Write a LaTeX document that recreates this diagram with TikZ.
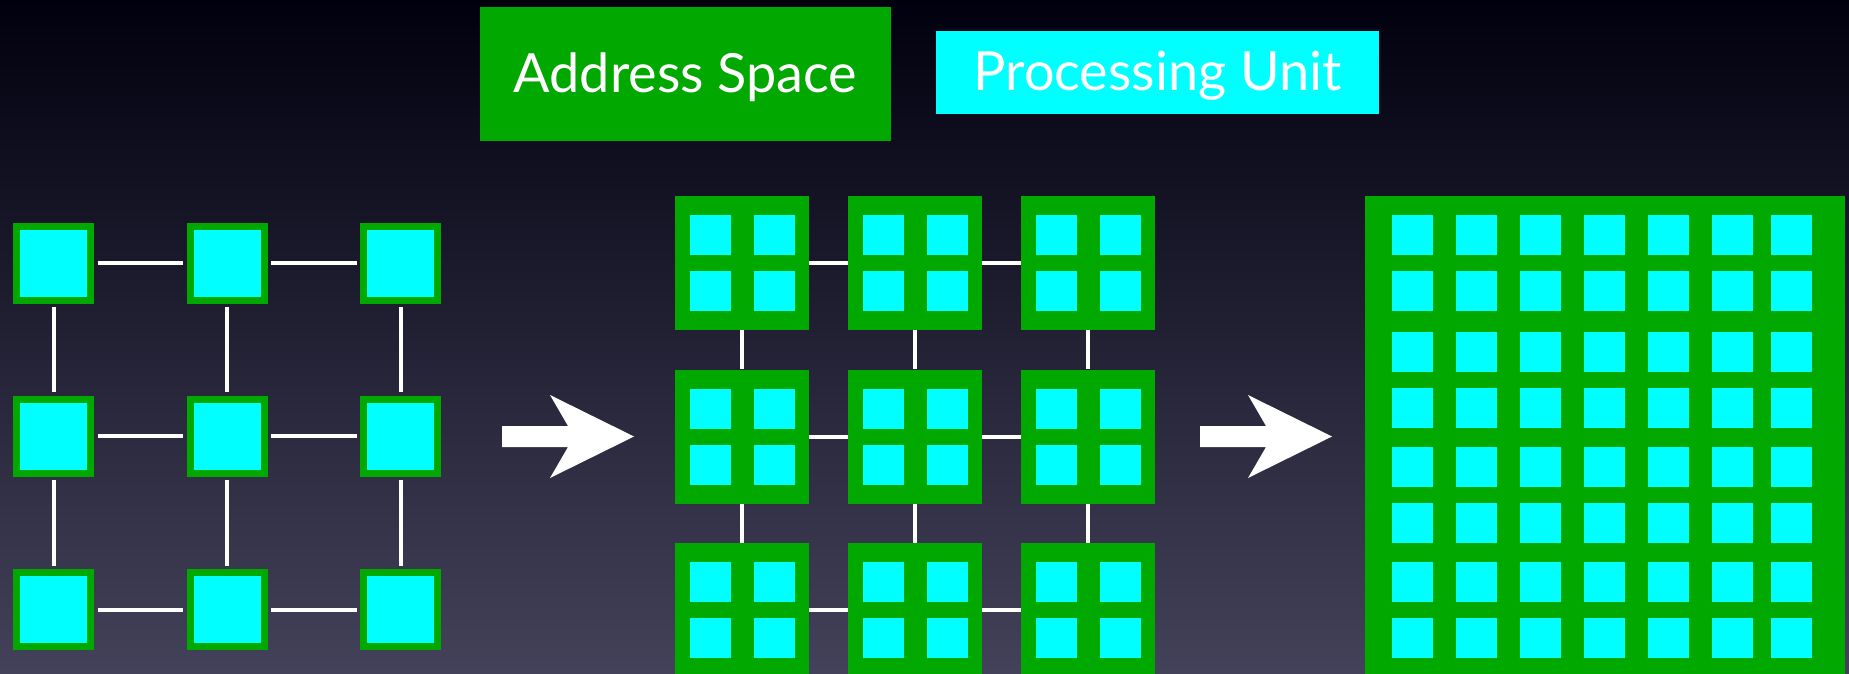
\documentclass[tikz,border=0pt]{standalone}
\usepackage{fontspec}
\setmainfont{Lato}

\definecolor{asgreen}{RGB}{0,168,0}
\definecolor{pucyan}{RGB}{0,255,255}
\definecolor{bgtop}{RGB}{0,0,14}
\definecolor{bgmid}{RGB}{24,24,52}
\definecolor{bgbot}{RGB}{68,66,90}

\begin{document}
\begin{tikzpicture}[x=1pt, y=-1pt,
  pu/.style={draw=asgreen, line width=7pt, fill=pucyan, minimum size=74pt, inner sep=0pt},
  block/.style={fill=asgreen, minimum size=134pt, inner sep=0pt},
  cell/.style={fill=pucyan, minimum width=41pt, minimum height=40pt, inner sep=0pt},
  link/.style={white, line width=4pt},
  keytext/.style={text=white, inner sep=0pt, text height=37pt, text depth=0pt,
    font=\fontsize{54}{58}\selectfont}]
\useasboundingbox (0,0) rectangle (1849,674);
\shade[top color=bgtop, middle color=bgmid, bottom color=bgbot] (0,0) rectangle (1849,674);

% legend
\node[keytext, fill=asgreen, minimum width=411pt, minimum height=134pt] (space) at (685.5,74) {Address Space};
\node[keytext, fill=pucyan, minimum width=443pt, minimum height=83pt] (unit) at (1157.5,72.5) {Processing Unit};

% one unit per address space
\foreach \i in {0,1,2}
  \foreach \j in {0,1,2}
    \node[pu] (p-\i-\j) at ({53.5+173.5*\i}, {263+173.25*\j}) {};
\foreach \i in {0,1,2}
  \foreach \j/\k in {0/1,1/2} {
    \draw[link, shorten <=3.5pt, shorten >=3.5pt] (p-\j-\i) -- (p-\k-\i);
    \draw[link, shorten <=3.5pt, shorten >=3.5pt] (p-\i-\j) -- (p-\i-\k);
  }

% four units per address space
\foreach \i in {0,1,2}
  \foreach \j in {0,1,2} {
    \node[block] (b-\i-\j) at ({742+173*\i}, {263+173.5*\j}) {};
    \foreach \dx/\dy/\n in {-32/-28/1, 32/-28/2, -32/28/3, 32/28/4}
      \node[cell] (b-\i-\j-\n) at ([shift={(\dx,\dy)}]b-\i-\j) {};
  }
\foreach \i in {0,1,2}
  \foreach \j/\k in {0/1,1/2} {
    \draw[link] (b-\j-\i) -- (b-\k-\i);
    \draw[link] (b-\i-\j) -- (b-\i-\k);
  }

% one address space
\node[block, minimum width=480pt, minimum height=478pt, anchor=north west] (big) at (1365,196) {};
\foreach \cx [count=\c] in {1392,1456,1520,1584,1648,1712,1771}
  \foreach \cy [count=\r] in {215,271,332,388,447,503,562,618}
    \node[cell, anchor=north west] (g-\c-\r) at (\cx,\cy) {};

% arrows
\foreach \ax in {502,1200}
  \fill[white] (\ax,426) -- ++(66,0) -- ++(-18,-31) -- ++(84,41.5) -- ++(-84,41.5) -- ++(18,-31) -- ++(-66,0) -- cycle;
\end{tikzpicture}
\end{document}
